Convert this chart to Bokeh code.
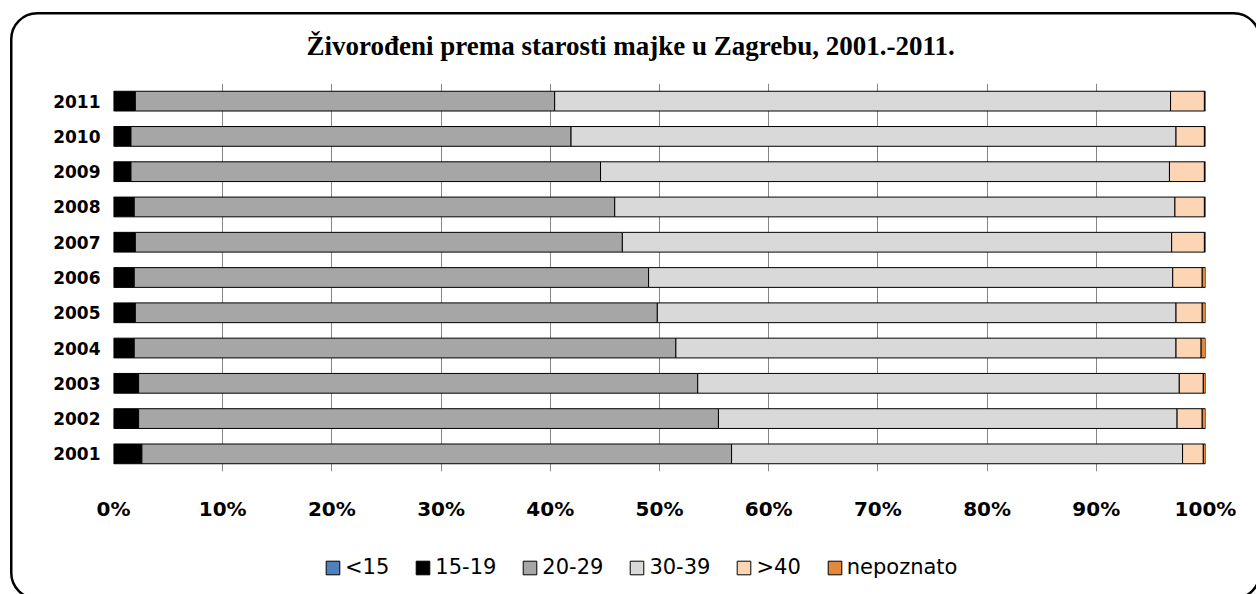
from bokeh.plotting import figure
from bokeh.layouts import column
from bokeh.models import (ColumnDataSource, FactorRange, Range1d, FixedTicker,
                          PrintfTickFormatter, Legend)
from bokeh.embed import file_html
from bokeh.resources import INLINE

years = ["2001", "2002", "2003", "2004", "2005", "2006",
         "2007", "2008", "2009", "2010", "2011"]
groups = ["<15", "15-19", "20-29", "30-39", ">40", "nepoznato"]
v_lt15 = [0.1, 0.1, 0.1, 0.1, 0.1, 0.1, 0.1, 0.1, 0.1, 0.1, 0.1]
v_15_19 = [2.5, 2.2, 2.2, 1.8, 1.9, 1.8, 1.9, 1.8, 1.5, 1.5, 1.9]
v_20_29 = [54.0, 53.1, 51.2, 49.6, 47.8, 47.1, 44.6, 44.0, 43.0, 40.3, 38.4]
v_30_39 = [41.3, 42.0, 44.1, 45.8, 47.5, 48.0, 50.3, 51.3, 52.1, 55.4, 56.4]
v_gt40 = [1.9, 2.3, 2.2, 2.3, 2.4, 2.7, 3.0, 2.7, 3.2, 2.6, 3.1]
v_nep = [0.2, 0.3, 0.2, 0.4, 0.3, 0.3, 0.1, 0.1, 0.1, 0.1, 0.1]
x_ticks = [0, 10, 20, 30, 40, 50, 60, 70, 80, 90, 100]
title_text = "Živorođeni prema starosti majke u Zagrebu, 2001.-2011."

colors = ["#4f81bd", "#000000", "#a6a6a6", "#d9d9d9", "#fcd5b5", "#e0883c"]
keys = ["lt15", "a15_19", "a20_29", "a30_39", "gt40", "nep"]

source = ColumnDataSource(dict(year=years, lt15=v_lt15, a15_19=v_15_19,
                               a20_29=v_20_29, a30_39=v_30_39,
                               gt40=v_gt40, nep=v_nep))

W, H_MAIN, H_LEG = 1256, 540, 54

# ---------------- main chart ----------------
p = figure(width=W, height=H_MAIN, output_backend="svg", toolbar_location=None,
           y_range=FactorRange(factors=years, range_padding=0),
           x_range=Range1d(0, 100),
           min_border_left=113, min_border_right=51,
           min_border_top=83, min_border_bottom=69)
p.outline_line_color = None
p.background_fill_color = "white"
p.border_fill_alpha = 0

p.hbar_stack(keys, y="year", height=0.56, source=source,
             color=colors, line_color="black", line_width=1)

p.title.text = title_text
p.title.align = "left"
p.title.offset = 193
p.title.text_font = "Liberation Serif"
p.title.text_font_style = "bold"
p.title.text_font_size = "27px"
p.title.text_color = "black"
p.title.standoff = 46

p.xaxis.ticker = FixedTicker(ticks=x_ticks)
p.xaxis.formatter = PrintfTickFormatter(format="%d%%")
p.xaxis.axis_line_color = None
p.xaxis.major_tick_line_color = None
p.xaxis.minor_tick_line_color = None
p.xaxis.major_tick_out = 0
p.xaxis.minor_tick_out = 0
p.xaxis.major_label_standoff = 25
p.xaxis.major_label_text_font = "DejaVu Sans"
p.xaxis.major_label_text_font_style = "bold"
p.xaxis.major_label_text_font_size = "20px"
p.xaxis.major_label_text_color = "black"

p.yaxis.axis_line_color = None
p.yaxis.major_tick_line_color = None
p.yaxis.minor_tick_line_color = None
p.yaxis.major_tick_out = 0
p.yaxis.minor_tick_out = 0
p.yaxis.major_label_standoff = 13
p.yaxis.major_label_text_font = "DejaVu Sans"
p.yaxis.major_label_text_font_style = "bold"
p.yaxis.major_label_text_font_size = "17px"
p.yaxis.major_label_text_color = "black"

p.xgrid.ticker = FixedTicker(ticks=x_ticks)
p.xgrid.grid_line_color = "#868686"
p.xgrid.grid_line_width = 1
p.ygrid.grid_line_color = None

# ---------------- legend strip ----------------
q = figure(width=W, height=H_LEG, output_backend="svg", toolbar_location=None,
           y_range=FactorRange(factors=years), x_range=Range1d(1000, 1001),
           x_axis_type=None, y_axis_type=None, min_border=0)
q.title.visible = False
q.outline_line_color = None
q.background_fill_alpha = 0
q.border_fill_alpha = 0
q.grid.visible = False
leg_renderers = q.hbar_stack(keys, y="year", height=0.56, source=source,
                             color=colors, line_color="black", line_width=1)
for r in leg_renderers:
    r.visible = False

legend = Legend(items=[(g, [r]) for g, r in zip(groups, leg_renderers)],
                orientation="horizontal", location=(211, 15),
                glyph_width=17, glyph_height=17, label_standoff=4,
                spacing=25, padding=0, margin=0,
                border_line_color=None, background_fill_alpha=0,
                inactive_fill_alpha=0,
                label_text_font="DejaVu Sans", label_text_font_size="21px",
                label_text_color="black")
q.add_layout(legend)

layout = column(p, q, spacing=0)

# rounded chart-area border (runs past the right/bottom edge as in the source)
border_svg = ("url(\"data:image/svg+xml;utf8,"
              "<svg xmlns='http://www.w3.org/2000/svg' width='1256' height='594'>"
              "<rect x='11.25' y='13.25' width='1248.5' height='585.5' rx='26' ry='26' "
              "fill='white' stroke='black' stroke-width='2.5'/></svg>\")")
layout.styles = {"background-image": border_svg, "background-repeat": "no-repeat",
                 "background-color": "white"}

open("out.html", "w").write(file_html(layout, INLINE))
